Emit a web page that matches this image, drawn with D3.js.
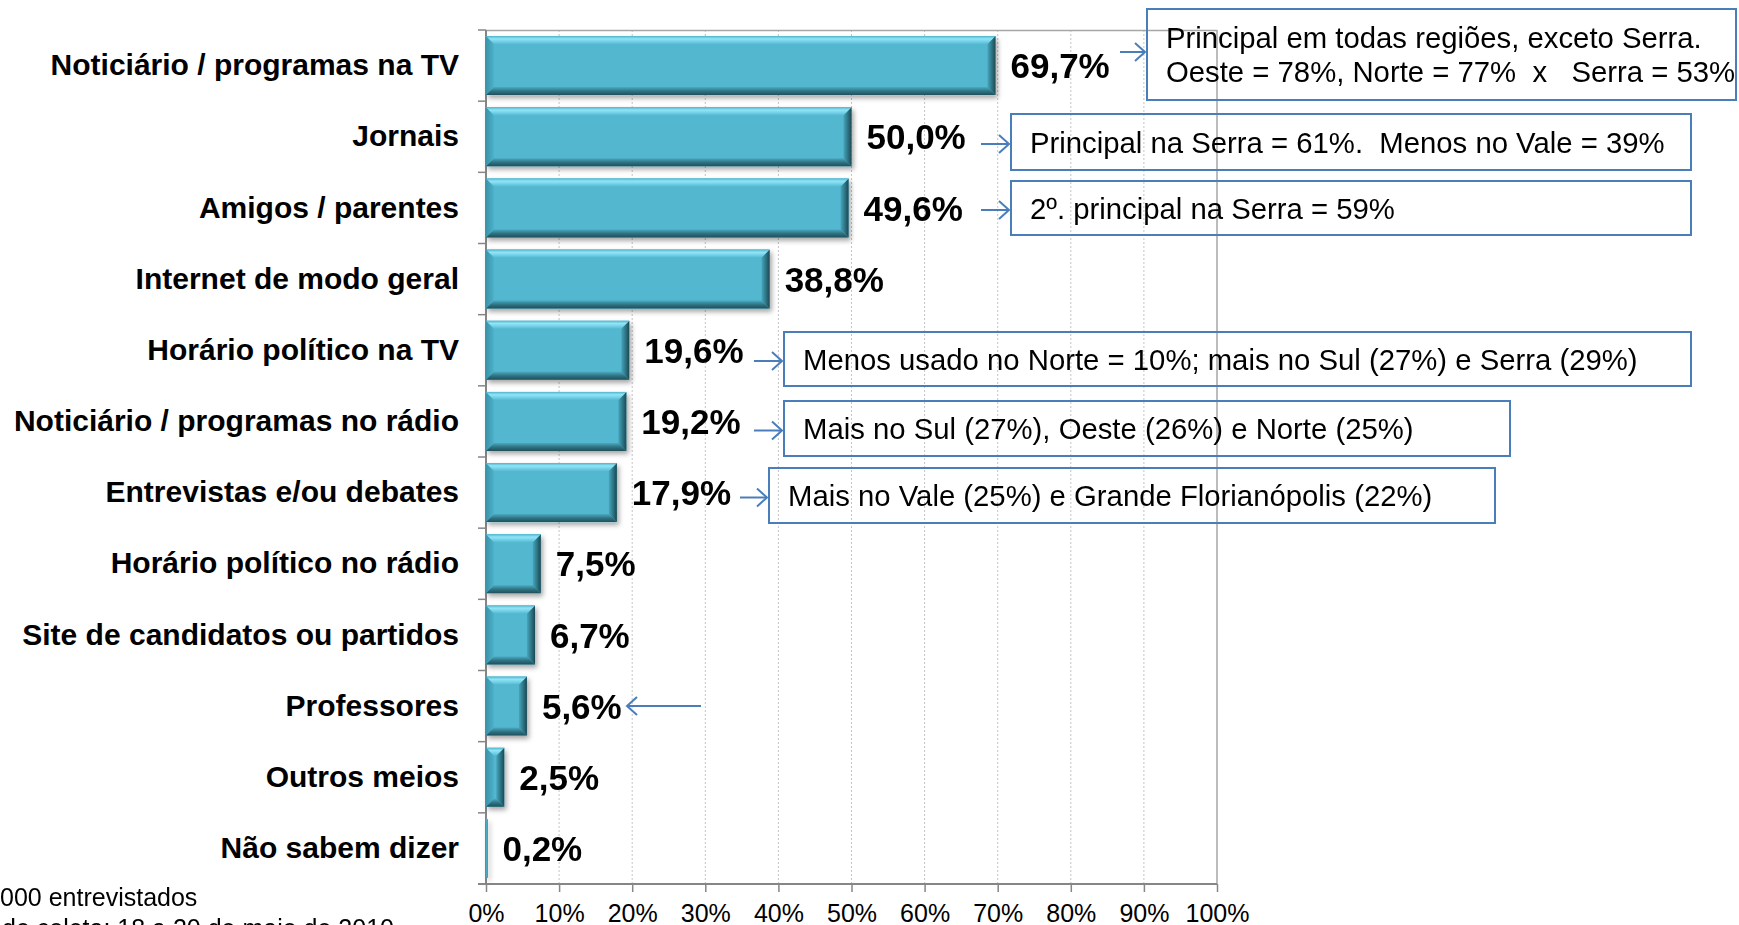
<!DOCTYPE html>
<html>
<head>
<meta charset="utf-8">
<script src="https://cdn.jsdelivr.net/npm/d3@7"></script>
<style>
  html, body { margin: 0; padding: 0; background: #fff; overflow: hidden; }
  svg { display: block; font-family: "Liberation Sans", Arial, sans-serif; }
</style>
</head>
<body>
<div id="container"></div>
<script>
// categories, top to bottom
var categories = [
  "Noticiário / programas na TV",
  "Jornais",
  "Amigos / parentes",
  "Internet de modo geral",
  "Horário político na TV",
  "Noticiário / programas no rádio",
  "Entrevistas e/ou debates",
  "Horário político no rádio",
  "Site de candidatos ou partidos",
  "Professores",
  "Outros meios",
  "Não sabem dizer"
];
var values = [69.7, 50.0, 49.6, 38.8, 19.6, 19.2, 17.9, 7.5, 6.7, 5.6, 2.5, 0.2];
var xTicks = [0, 10, 20, 30, 40, 50, 60, 70, 80, 90, 100];
var xTickLabels = ["0%", "10%", "20%", "30%", "40%", "50%", "60%", "70%", "80%", "90%", "100%"];

// notes next to some bars
var noteCats = [
  "Noticiário / programas na TV",
  "Jornais",
  "Amigos / parentes",
  "Horário político na TV",
  "Noticiário / programas no rádio",
  "Entrevistas e/ou debates",
  "Professores"
];
var noteTexts = [
  ["Principal em todas regiões, exceto Serra.", "Oeste = 78%, Norte = 77%  x   Serra = 53%"],
  ["Principal na Serra = 61%.  Menos no Vale = 39%"],
  ["2º. principal na Serra = 59%"],
  ["Menos usado no Norte = 10%; mais no Sul (27%) e Serra (29%)"],
  ["Mais no Sul (27%), Oeste (26%) e Norte (25%)"],
  ["Mais no Vale (25%) e Grande Florianópolis (22%)"],
  []
];
// box layout in px: [arrowX0, arrowX1, boxRight, boxTop, boxBottom] (boxRight 0 = no box)
var noteLayout = [
  [1120, 1145, 1736, 9, 100],
  [981, 1009, 1691, 114, 170],
  [981, 1009, 1691, 181, 235],
  [754, 782, 1691, 332, 386],
  [754, 782, 1510, 401, 456],
  [740, 767, 1495, 468, 523],
  [701, 627, 0, 0, 0]
];
var sourceLines = ["1.000 entrevistados", "Período de coleta: 18 a 20 de maio de 2010"];

(function () {
  var width = 1739, height = 925;
  var pLeft = 486, pRight = 1217, pTop = 30, pBottom = 884;

  var svg = d3.select("#container").append("svg")
    .attr("width", width).attr("height", height);

  var defs = svg.append("defs");
  function grad(id, x2, y2, stops) {
    var g = defs.append("linearGradient").attr("id", id)
      .attr("x1", 0).attr("y1", 0).attr("x2", x2).attr("y2", y2);
    stops.forEach(function (s) {
      g.append("stop").attr("offset", s[0]).attr("stop-color", s[1]);
    });
  }
  grad("gTop", 0, 1, [[0, "#4fb4cc"], [0.35, "#92e4f6"], [0.6, "#7ad6ec"], [1, "#56bbd3"]]);
  grad("gBottom", 0, 1, [[0, "#4aa9c0"], [0.5, "#2f7383"], [1, "#1f4f5b"]]);
  grad("gLeft", 1, 0, [[0, "#3a93a9"], [1, "#4eb2ca"]]);
  grad("gRight", 1, 0, [[0, "#46a5bc"], [0.5, "#2f7888"], [1, "#1c4852"]]);

  var shadow = defs.append("filter").attr("id", "shadow")
    .attr("x", "-10%").attr("y", "-20%").attr("width", "130%").attr("height", "150%");
  shadow.append("feDropShadow").attr("dx", 2).attr("dy", 3)
    .attr("stdDeviation", 2.5).attr("flood-color", "#000").attr("flood-opacity", 0.35);

  var x = d3.scaleLinear().domain([0, 100]).range([pLeft, pRight]);
  var y = d3.scaleBand().domain(categories).range([pTop, pBottom])
    .paddingInner(0.17).paddingOuter(0.085);

  // gridlines
  svg.append("g").selectAll("line").data(xTicks.slice(1, -1)).enter().append("line")
    .attr("x1", function (d) { return x(d); }).attr("x2", function (d) { return x(d); })
    .attr("y1", pTop).attr("y2", pBottom)
    .attr("stroke", "#c4c4c4").attr("stroke-width", 1).attr("stroke-dasharray", "2,2");

  // plot frame (top + right)
  svg.append("line").attr("x1", pLeft).attr("x2", pRight).attr("y1", pTop + 0.5).attr("y2", pTop + 0.5)
    .attr("stroke", "#a6a6a6").attr("stroke-width", 1.5);
  svg.append("line").attr("x1", pRight).attr("x2", pRight).attr("y1", pTop).attr("y2", pBottom)
    .attr("stroke", "#a6a6a6").attr("stroke-width", 1.5);

  // x axis
  var xAxis = svg.append("g").attr("transform", "translate(0," + pBottom + ")")
    .call(d3.axisBottom(x).tickValues(xTicks).tickSize(8).tickPadding(12)
      .tickFormat(function (d, i) { return xTickLabels[i]; }));
  xAxis.select(".domain").attr("stroke", "#868686").attr("stroke-width", 2)
    .attr("d", "M" + (pLeft - 8) + ",0H" + pRight);
  xAxis.selectAll(".tick line").attr("stroke", "#868686").attr("stroke-width", 1.5);
  xAxis.selectAll("text").attr("font-size", 25).attr("fill", "#000")
    .attr("font-family", "'Liberation Sans', Arial, sans-serif");

  // y axis: line, ticks at category boundaries, labels
  svg.append("line").attr("x1", pLeft).attr("x2", pLeft).attr("y1", pTop).attr("y2", pBottom)
    .attr("stroke", "#868686").attr("stroke-width", 2);
  svg.append("g").selectAll("line").data(d3.range(categories.length + 1)).enter().append("line")
    .attr("x1", pLeft - 8).attr("x2", pLeft)
    .attr("y1", function (i) { return pTop + i * y.step(); })
    .attr("y2", function (i) { return pTop + i * y.step(); })
    .attr("stroke", "#868686").attr("stroke-width", 1.5);

  var yAxis = svg.append("g").attr("transform", "translate(" + pLeft + ",0)")
    .call(d3.axisLeft(y).tickSize(0).tickPadding(27));
  yAxis.select(".domain").remove();
  yAxis.selectAll("text").attr("font-size", 30).attr("font-weight", "bold").attr("fill", "#000")
    .attr("font-family", "'Liberation Sans', Arial, sans-serif");

  // bevelled bars
  var bars = svg.append("g").attr("filter", "url(#shadow)")
    .selectAll("g").data(values).enter().append("g")
    .attr("transform", function (d, i) { return "translate(" + x(0) + "," + y(categories[i]) + ")"; });

  bars.each(function (d) {
    var g = d3.select(this);
    var w = x(d) - x(0), h = y.bandwidth();
    var b = Math.min(8, w / 2, h / 2);
    g.append("rect").attr("width", w).attr("height", h).attr("fill", "#52b7cf");
    g.append("polygon").attr("fill", "url(#gLeft)")
      .attr("points", [[0, 0], [b, b], [b, h - b], [0, h]].join(" "));
    g.append("polygon").attr("fill", "url(#gRight)")
      .attr("points", [[w, 0], [w, h], [w - b, h - b], [w - b, b]].join(" "));
    g.append("polygon").attr("fill", "url(#gTop)")
      .attr("points", [[0, 0], [w, 0], [w - b, b], [b, b]].join(" "));
    g.append("polygon").attr("fill", "url(#gBottom)")
      .attr("points", [[b, h - b], [w - b, h - b], [w, h], [0, h]].join(" "));
  });

  // value labels
  var fmt = d3.format(".1f");
  svg.append("g").selectAll("text").data(values).enter().append("text")
    .attr("x", function (d) { return x(d) + 15; })
    .attr("y", function (d, i) { return y(categories[i]) + y.bandwidth() / 2; })
    .attr("dy", "0.36em")
    .attr("font-size", 35).attr("font-weight", "bold").attr("fill", "#000")
    .text(function (d) { return fmt(d).replace(".", ",") + "%"; });

  // notes: arrows and boxes
  var blue = "#4a7ebb";
  var notes = svg.append("g");
  noteCats.forEach(function (cat, i) {
    var L = noteLayout[i];
    var lines = noteTexts[i];
    var ay;
    if (lines.length === 2) ay = 52;
    else if (L[2]) ay = (L[3] + L[4]) / 2 + 2;
    else ay = y(cat) + y.bandwidth() / 2;
    var dir = L[1] > L[0] ? 1 : -1;
    notes.append("line").attr("x1", L[0]).attr("x2", L[1]).attr("y1", ay).attr("y2", ay)
      .attr("stroke", blue).attr("stroke-width", 2);
    notes.append("path")
      .attr("d", "M" + (L[1] - dir * 10) + "," + (ay - 9) + "L" + L[1] + "," + ay + "L" + (L[1] - dir * 10) + "," + (ay + 9))
      .attr("fill", "none").attr("stroke", blue).attr("stroke-width", 2);
    if (!L[2]) return;
    var bx = L[1] + 2;
    notes.append("rect").attr("x", bx).attr("y", L[3]).attr("width", L[2] - bx).attr("height", L[4] - L[3])
      .attr("fill", "none").attr("stroke", blue).attr("stroke-width", 2);
    var t = notes.append("text").attr("font-size", 29.3).attr("fill", "#000").style("white-space", "pre");
    var lh = 34;
    var cy = (L[3] + L[4]) / 2;
    lines.forEach(function (s, k) {
      t.append("tspan").attr("x", bx + 19)
        .attr("y", cy + (k - (lines.length - 1) / 2) * lh)
        .attr("dy", "0.36em").text(s);
    });
  });

  // source lines, cut at the left and bottom edges
  var src = svg.append("g").attr("font-size", 25).attr("fill", "#000");
  var cut = ["1.", "Período "];
  sourceLines.forEach(function (s, k) {
    var tmp = src.append("text").style("white-space", "pre").text(cut[k]);
    var off = tmp.node().getComputedTextLength();
    tmp.remove();
    src.append("text").attr("x", -off + (k === 1 ? 2 : 0)).attr("y", 906 + k * 31).text(s);
  });
})();
</script>
</body>
</html>
